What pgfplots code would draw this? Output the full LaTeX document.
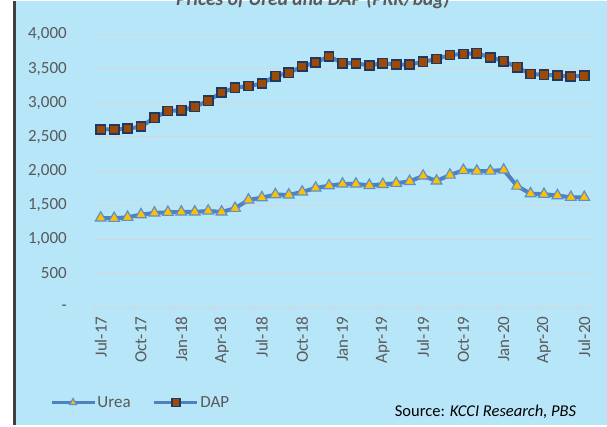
\documentclass[border=0pt]{standalone}
\usepackage{pgfplots}
\pgfplotsset{compat=1.18}
\usepackage{fontspec}
\setmainfont{Carlito}
\definecolor{bgblue}{RGB}{183,230,249}
\definecolor{txtgray}{RGB}{89,89,89}
\definecolor{gridgray}{RGB}{214,214,214}
\definecolor{lineblue}{RGB}{79,129,189}
\definecolor{triedge}{RGB}{91,143,208}
\definecolor{triyellow}{RGB}{255,192,0}
\definecolor{sqbrown}{RGB}{156,74,6}
\definecolor{sqedge}{RGB}{31,56,100}
\begin{document}
\begin{tikzpicture}[x=1pt,y=1pt]
\fill[white] (0,0) rectangle (607,423);
\fill[bgblue] (15.5,0) rectangle (607,423);
\draw[black!75, line width=3pt] (14,0) -- (14,423);
\begin{pgfinterruptboundingbox}
\node[anchor=base, font=\fontsize{19.5}{23}\selectfont\bfseries\itshape, text=txtgray] at (313,419) {Prices of Urea and DAP (PKR/bag)};
\end{pgfinterruptboundingbox}
\node[anchor=center, font=\fontsize{16.5}{20}\selectfont, text=black] at (485.5,13) {Source: \textit{KCCI Research, PBS}};
\begin{axis}[
  at={(94pt,117pt)}, anchor=south west,
  scale only axis, width=497pt, height=273pt,
  xmin=-0.5, xmax=36.5, ymin=0, ymax=4000,
  axis line style={draw=none},
  ytick={0,500,...,4000},
  yticklabels={{-\hspace{8pt}},500,{1,000},{1,500},{2,000},{2,500},{3,000},{3,500},{4,000}},
  ymajorgrids, grid style={gridgray, line width=1pt},
  ytick style={draw=none},
  yticklabel style={anchor=east, inner sep=0pt, font=\fontsize{17}{20}\selectfont, text=txtgray},
  yticklabel shift=22pt,
  xtick={-0.5,2.5,...,35.5}, xticklabels={},
  tick align=outside, xtick pos=lower, major tick length=5pt,
  xtick style={gridgray, line width=1pt},
  extra x ticks={0,3,...,36},
  extra x tick labels={Jul-17,Oct-17,Jan-18,Apr-18,Jul-18,Oct-18,Jan-19,Apr-19,Jul-19,Oct-19,Jan-20,Apr-20,Jul-20},
  extra x tick style={major tick length=0pt, grid=none},
  xticklabel style={rotate=90, anchor=east, inner sep=0pt, font=\fontsize{17}{20}\selectfont, text=txtgray},
  xticklabel shift=9pt,
  legend columns=-1,
  legend style={at={(-0.0885,-0.348)}, anchor=west, draw=none, fill=none, inner sep=0pt,
    font=\fontsize{17}{20}\selectfont, text=txtgray,
    nodes={inner sep=1.5pt},
    /tikz/every even column/.append style={column sep=21pt}},
  legend image code/.code={\draw[mark repeat=2,mark phase=2,#1,line width=2.7pt,mark size=4pt] plot coordinates {(0pt,0pt) (21.5pt,0pt) (43pt,0pt)};},
]
\addplot[lineblue, line width=4pt, mark=triangle*, mark size=6.2pt,
  mark options={fill=triyellow, draw=triedge, line width=1.2pt}]
coordinates {
(0,1312)(1,1307)(2,1322)(3,1361)(4,1385)(5,1395)(6,1400)(7,1400)(8,1415)(9,1400)
(10,1454)(11,1576)(12,1610)(13,1654)(14,1650)(15,1693)(16,1751)(17,1785)(18,1810)(19,1810)
(20,1790)(21,1805)(22,1820)(23,1849)(24,1927)(25,1854)(26,1941)(27,2010)(28,2000)(29,2000)
(30,2015)(31,1780)(32,1668)(33,1660)(34,1640)(35,1615)(36,1615)};
\addlegendentry{Urea}
\addplot[lineblue, line width=4pt, mark=square*, mark size=4.6pt,
  mark options={fill=sqbrown, draw=sqedge, line width=1.6pt}]
coordinates {
(0,2610)(1,2610)(2,2620)(3,2650)(4,2780)(5,2880)(6,2890)(7,2940)(8,3030)(9,3150)
(10,3220)(11,3245)(12,3280)(13,3390)(14,3440)(15,3530)(16,3590)(17,3680)(18,3580)(19,3578)
(20,3545)(21,3580)(22,3560)(23,3560)(24,3600)(25,3640)(26,3700)(27,3715)(28,3725)(29,3665)
(30,3610)(31,3520)(32,3420)(33,3410)(34,3400)(35,3385)(36,3395)};
\addlegendentry{DAP}
\end{axis}
\end{tikzpicture}
\end{document}
